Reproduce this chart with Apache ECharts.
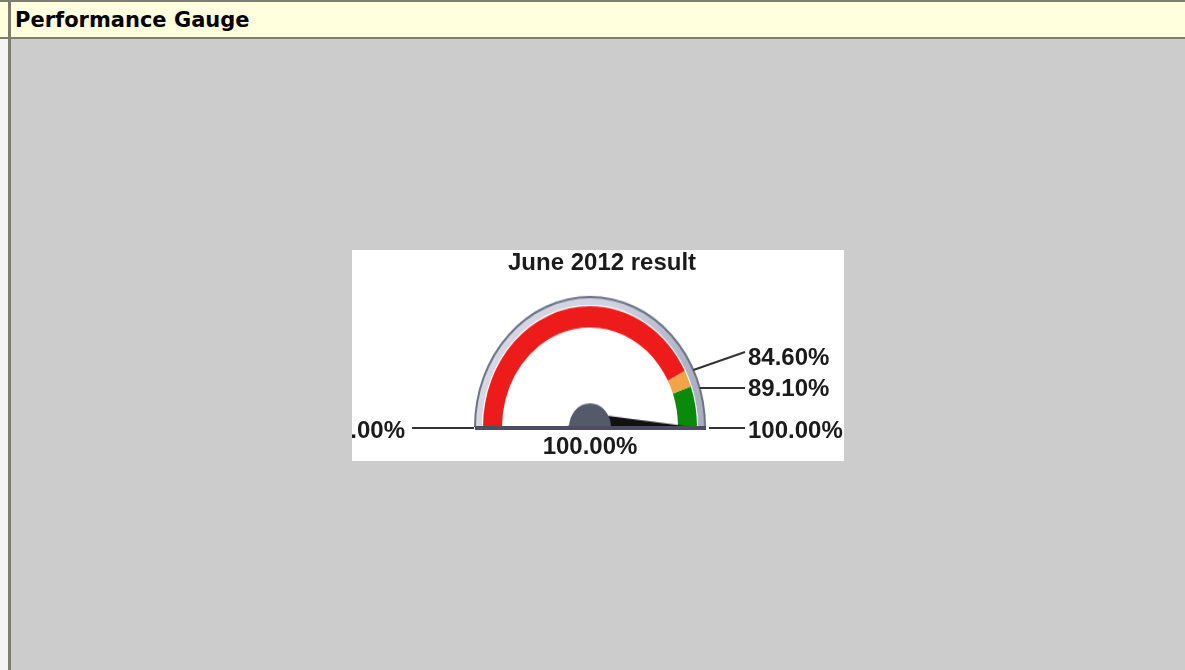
<!DOCTYPE html>
<html>
<head>
<meta charset="utf-8">
<script src="https://cdn.jsdelivr.net/npm/echarts@6/dist/echarts.min.js"></script>
<style>
html,body{margin:0;padding:0;width:1185px;height:670px;overflow:hidden;background:#cccccc;}
#page{position:relative;width:1185px;height:670px;background:#cccccc;}
#leftstrip{position:absolute;left:0;top:39px;width:8px;height:631px;background:#f4f4f4;}
#header{position:absolute;left:0;top:0;width:1185px;height:39px;background:#ffffdd;box-sizing:border-box;border-top:2px solid #7d7d70;border-bottom:2px solid #7d7d70;}
#htext{position:absolute;left:15px;top:0;height:35px;line-height:37px;font-family:"DejaVu Sans",sans-serif;font-weight:bold;font-size:21px;color:#000;}
#vline{position:absolute;left:8px;top:0;width:3px;height:670px;background:#7d7d70;}
#box{position:absolute;left:352px;top:250px;width:492px;height:211px;background:#ffffff;overflow:hidden;}
#gA,#gB{position:absolute;left:0;top:0;width:492px;height:211px;}
#gA{transform-origin:238px 177px;transform:scaleY(1.13);}
</style>
</head>
<body>
<div id="page">
  <div id="leftstrip"></div>
  <div id="header"><div id="htext">Performance Gauge</div></div>
  <div id="vline"></div>
  <div id="box">
    <div id="gA"></div>
    <div id="gB"></div>
  </div>
</div>
<script>
// ---- data ----
const chartTitle = 'June 2012 result';
const gaugeMin = 0;
const gaugeMax = 100;
const bandStops = [84.6, 89.1, 100];
const bandColors = ['#ee1b1b', '#f2a548', '#0a8a0a'];
const gaugeValue = 100.00;
const thresholdValues = [84.6, 89.1];

// ---- layout ----
const cx = 238, cy = 177, sy = 1.13;
const bandR = 107, bandW = 19, bezelR = 114, bezelW = 6, outlineR = 115;
const fmt = v => v.toFixed(2) + '%';
const labelFont = 'bold 24px "Liberation Sans", Arial, sans-serif';
const textColor = '#1b1b1b';
const lineColor = '#333333';
const labelX = 396, lineEndX = 393;
const thresholdLabelY = [108, 139];
const thresholdLineStartY = [120, 138];
const thresholdLineEndY = [102, 138];
const endLabelY = 181, endLineY = 178;

function base(r, w, colors) {
  return {
    type: 'gauge', center: [cx, cy], radius: r, startAngle: 180, endAngle: 0,
    min: gaugeMin, max: gaugeMax, silent: true,
    axisLine: { lineStyle: { width: w, color: colors } },
    axisTick: { show: false }, splitLine: { show: false }, axisLabel: { show: false },
    pointer: { show: false }, anchor: { show: false }, title: { show: false },
    detail: { show: false }, progress: { show: false }, data: []
  };
}

const span = gaugeMax - gaugeMin;
const bandColorStops = bandStops.map((s, i) => [(s - gaugeMin) / span, bandColors[i]]);

const band = base(bandR, bandW, bandColorStops);
band.pointer = { show: true, length: 103, width: 12, itemStyle: { color: '#111111' } };
band.anchor = { show: true, size: 42, showAbove: true, itemStyle: { color: '#555a6b' } };
band.data = [{ value: gaugeValue }];

const bezelGrad = new echarts.graphic.LinearGradient(0, 0, 1, 0, [
  { offset: 0, color: '#d6d8e4' }, { offset: 0.6, color: '#cfd2df' }, { offset: 1, color: '#a9adc0' }
]);

const chartA = echarts.init(document.getElementById('gA'), null, { renderer: 'canvas' });
chartA.setOption({
  animation: false,
  series: [
    base(outlineR + 1, 3, [[1, '#6f7388']]),
    base(bezelR, bezelW, [[1, bezelGrad]]),
    base(bandR + 1, 1, [[1, '#ffffff']]),
    band
  ]
});

function bezelXAtY(y) {
  const dy = (cy - y) / sy;
  return cx + Math.sqrt(Math.max(0, outlineR * outlineR - dy * dy));
}

const els = [];
// cover below baseline
els.push({ type: 'rect', shape: { x: cx - 130, y: cy + 3, width: 260, height: 40 }, style: { fill: '#ffffff' }, z: 1 });
// baseline bar
els.push({ type: 'rect', shape: { x: cx - outlineR, y: cy - 1, width: 2 * outlineR + 1, height: 4 }, style: { fill: '#4a4e60' }, z: 2 });

function txt(x, y, s, align) {
  return { type: 'text', x: x, y: y, z: 5,
    style: { text: s, font: labelFont, fill: textColor, align: align, textAlign: align, verticalAlign: 'middle', textVerticalAlign: 'middle' } };
}
function line(x1, y1, x2, y2) {
  return { type: 'line', z: 4, shape: { x1, y1, x2, y2 }, style: { stroke: lineColor, lineWidth: 2 } };
}

// min label (left)
els.push(line(cx - 178, endLineY, cx - outlineR - 1, endLineY));
els.push(txt(cx - 185, endLabelY, fmt(gaugeMin), 'right'));
// max label (right)
els.push(line(cx + outlineR + 4, endLineY, lineEndX, endLineY));
els.push(txt(labelX, endLabelY, fmt(gaugeMax), 'left'));
// threshold labels
thresholdValues.forEach((v, i) => {
  const sy0 = thresholdLineStartY[i];
  els.push(line(bezelXAtY(sy0), sy0, lineEndX, thresholdLineEndY[i]));
  els.push(txt(labelX, thresholdLabelY[i], fmt(v), 'left'));
});
// value readout
els.push(txt(cx, 197, fmt(gaugeValue), 'center'));

const chartB = echarts.init(document.getElementById('gB'), null, { renderer: 'canvas' });
chartB.setOption({
  animation: false,
  title: {
    text: chartTitle, left: 156, top: 1, padding: 0,
    textStyle: { fontFamily: '"Liberation Sans", Arial, sans-serif', fontWeight: 'bold', fontSize: 24, color: textColor }
  },
  graphic: { elements: els }
});
</script>
</body>
</html>
